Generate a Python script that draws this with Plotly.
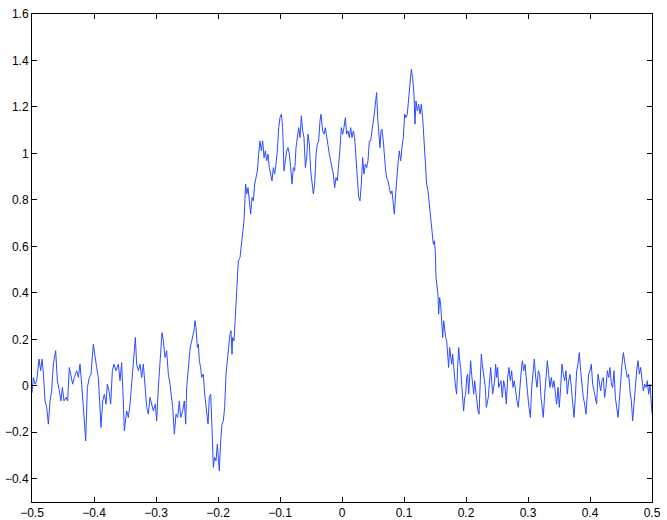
import plotly.graph_objects as go

# signal values
x_vals = [
    -0.5000, -0.4978, -0.4951, -0.4924, -0.4887, -0.4860, -0.4838, -0.4817, -0.4790, -0.4763,
    -0.4736, -0.4709, -0.4683, -0.4656, -0.4618, -0.4591, -0.4559, -0.4532, -0.4510, -0.4484,
    -0.4451, -0.4425, -0.4398, -0.4371, -0.4344, -0.4317, -0.4279, -0.4252, -0.4226, -0.4199,
    -0.4172, -0.4156, -0.4134, -0.4107, -0.4075, -0.4048, -0.4011, -0.3984, -0.3957, -0.3930,
    -0.3903, -0.3887, -0.3860, -0.3833, -0.3806, -0.3785, -0.3758, -0.3731, -0.3704, -0.3677,
    -0.3645, -0.3607, -0.3580, -0.3554, -0.3527, -0.3511, -0.3473, -0.3446, -0.3419, -0.3392,
    -0.3355, -0.3333, -0.3312, -0.3285, -0.3258, -0.3231, -0.3204, -0.3177, -0.3150, -0.3123,
    -0.3097, -0.3070, -0.3043, -0.3011, -0.2989, -0.2962, -0.2935, -0.2903, -0.2881, -0.2855,
    -0.2828, -0.2801, -0.2774, -0.2731, -0.2704, -0.2677, -0.2650, -0.2624, -0.2602, -0.2570,
    -0.2543, -0.2521, -0.2505, -0.2478, -0.2451,
    -0.2436, -0.2409, -0.2387, -0.2371, -0.2355, -0.2333, -0.2317, -0.2301, -0.2280, -0.2264,
    -0.2237, -0.2215, -0.2199, -0.2183, -0.2161, -0.2140, -0.2118, -0.2097, -0.2075, -0.2054,
    -0.2032, -0.2011, -0.1989, -0.1979, -0.1957, -0.1936, -0.1914, -0.1893, -0.1871, -0.1850,
    -0.1828, -0.1807, -0.1790, -0.1774, -0.1764, -0.1742, -0.1721, -0.1699, -0.1672, -0.1645,
    -0.1624, -0.1602, -0.1581,
    -0.1554, -0.1537, -0.1516, -0.1494, -0.1473, -0.1451, -0.1430, -0.1408, -0.1387, -0.1365,
    -0.1344, -0.1322, -0.1301, -0.1279, -0.1258, -0.1236, -0.1215, -0.1193, -0.1172, -0.1150,
    -0.1129, -0.1107, -0.1086, -0.1064, -0.1043, -0.1021, -0.1000, -0.0978, -0.0957, -0.0935,
    -0.0914, -0.0892, -0.0871, -0.0849, -0.0828, -0.0806, -0.0785, -0.0763, -0.0742, -0.0720,
    -0.0699, -0.0677, -0.0656, -0.0634, -0.0613, -0.0591, -0.0570, -0.0548, -0.0527, -0.0505,
    -0.0484, -0.0462, -0.0441, -0.0419, -0.0398, -0.0376, -0.0355, -0.0339, -0.0312, -0.0290,
    -0.0269, -0.0247, -0.0226, -0.0204, -0.0183, -0.0161, -0.0140, -0.0118, -0.0097, -0.0075,
    -0.0054, -0.0032, -0.0011, 0.0011, 0.0032, 0.0054, 0.0075, 0.0097, 0.0118, 0.0140,
    0.0161, 0.0183, 0.0204, 0.0226, 0.0247, 0.0269, 0.0290, 0.0312, 0.0333, 0.0355,
    0.0376, 0.0398, 0.0419, 0.0441,
    0.0462, 0.0484, 0.0505, 0.0527, 0.0543, 0.0559, 0.0575, 0.0591, 0.0613, 0.0629,
    0.0645, 0.0666, 0.0682, 0.0704, 0.0720, 0.0742, 0.0763, 0.0785, 0.0806, 0.0828,
    0.0844, 0.0865, 0.0881, 0.0903, 0.0924, 0.0946, 0.0967, 0.0989, 0.1010, 0.1032,
    0.1053, 0.1075, 0.1096, 0.1118, 0.1139, 0.1161, 0.1177, 0.1193, 0.1215, 0.1236,
    0.1258, 0.1279, 0.1301, 0.1322, 0.1344, 0.1365, 0.1387, 0.1408, 0.1430, 0.1451,
    0.1473, 0.1489, 0.1505, 0.1516, 0.1532, 0.1548, 0.1559, 0.1575, 0.1591, 0.1607,
    0.1624, 0.1640, 0.1656, 0.1672, 0.1688, 0.1704, 0.1720, 0.1736, 0.1753, 0.1769,
    0.1785, 0.1801, 0.1817, 0.1833, 0.1849, 0.1865, 0.1882, 0.1898, 0.1914, 0.1930,
    0.1946, 0.1962, 0.1978, 0.1995, 0.2011, 0.2027, 0.2043, 0.2059, 0.2075, 0.2091,
    0.2107, 0.2124, 0.2140, 0.2156, 0.2172, 0.2193, 0.2210, 0.2226, 0.2247, 0.2263,
    0.2280, 0.2296, 0.2312, 0.2328, 0.2344, 0.2360, 0.2376, 0.2398, 0.2414, 0.2430,
    0.2446, 0.2462, 0.2478, 0.2495, 0.2511, 0.2527,
    0.2564, 0.2586, 0.2607, 0.2629, 0.2650, 0.2672, 0.2693, 0.2715, 0.2736, 0.2758,
    0.2779, 0.2801, 0.2822, 0.2844, 0.2866, 0.2887, 0.2909, 0.2930, 0.2952, 0.2973,
    0.2995, 0.3016, 0.3038, 0.3059, 0.3081, 0.3102, 0.3124, 0.3145, 0.3167, 0.3188,
    0.3210, 0.3231, 0.3247, 0.3269, 0.3290, 0.3312, 0.3333, 0.3355, 0.3376, 0.3398,
    0.3419, 0.3441, 0.3462, 0.3484, 0.3505, 0.3527, 0.3548, 0.3570, 0.3591, 0.3613,
    0.3634, 0.3656, 0.3677, 0.3699, 0.3720, 0.3742, 0.3763, 0.3785, 0.3806, 0.3828,
    0.3849, 0.3871, 0.3892, 0.3914, 0.3935, 0.3957, 0.3978, 0.4000, 0.4021, 0.4043,
    0.4064, 0.4086, 0.4107, 0.4129, 0.4150, 0.4172, 0.4193, 0.4215, 0.4236, 0.4258,
    0.4279, 0.4301, 0.4322, 0.4344, 0.4365, 0.4387, 0.4409, 0.4430, 0.4452, 0.4473,
    0.4495, 0.4516, 0.4538, 0.4559, 0.4581, 0.4602, 0.4624, 0.4645, 0.4667, 0.4688,
    0.4710, 0.4731, 0.4753, 0.4774, 0.4796, 0.4817, 0.4839, 0.4860, 0.4882, 0.4903,
    0.4925, 0.4946, 0.4968, 0.4989, 0.5000,
]

y_vals = [
    -0.030, 0.036, 0.007, 0.022, 0.115, 0.065, 0.115, 0.057, -0.065, -0.093,
    -0.165, -0.065, -0.022, 0.093, 0.151, 0.022, -0.022, -0.065, -0.007, -0.065,
    -0.050, -0.065, 0.079, 0.036, 0.007, 0.036, 0.065, 0.036, 0.093, 0.007,
    -0.122, -0.151, -0.237, -0.007, 0.036, 0.050, 0.179, 0.122, 0.079, 0.036,
    -0.079, -0.179, -0.065, -0.036, -0.079, 0.007, -0.022, -0.079, 0.065, 0.093,
    0.065, 0.093, 0.022, 0.100, -0.065, -0.194, -0.108, -0.136, -0.079, 0.007,
    0.122, 0.208, 0.093, 0.065, 0.093, 0.036, 0.093, -0.022, -0.093, -0.122,
    -0.050, -0.079, -0.108, -0.079, -0.151, -0.007, 0.122, 0.229, 0.194, 0.122,
    0.151, 0.050, 0.007, -0.093, -0.208, -0.122, -0.136, -0.065, -0.136, -0.108,
    -0.065, -0.165, -0.007, 0.093, 0.158,
    0.179, 0.208, 0.237, 0.280, 0.251, 0.165, 0.179, 0.108, 0.079, 0.036,
    0.050, -0.036, -0.079, -0.122, -0.165, -0.050, -0.036, -0.179, -0.351, -0.308,
    -0.323, -0.251, -0.351, -0.366, -0.237, -0.165, -0.151, -0.093, 0.050, 0.122,
    0.165, 0.222, 0.237, 0.136, 0.208, 0.194, 0.308, 0.380, 0.538, 0.552,
    0.609, 0.652, 0.710,
    0.868, 0.825, 0.853, 0.796, 0.739, 0.810, 0.796, 0.868, 0.896, 0.925,
    0.997, 1.054, 1.011, 1.054, 0.982, 1.011, 0.968, 0.997, 0.939, 0.911,
    0.882, 0.939, 0.911, 0.954, 1.011, 1.111, 1.154, 1.169, 1.111, 0.925,
    0.982, 1.011, 1.025, 0.997, 0.939, 0.868, 0.939, 0.925, 1.025, 1.083,
    1.111, 1.068, 1.162, 1.097, 1.068, 0.939, 0.982, 1.083, 1.040, 0.925,
    0.868, 0.825, 0.868, 0.997, 1.040, 1.054, 1.140, 1.169, 1.097, 1.083,
    1.111, 1.068, 1.040, 0.997, 0.968, 0.939, 0.911, 0.853, 0.896, 0.882,
    0.939, 1.025, 1.111, 1.083, 1.111, 1.154, 1.083, 1.097, 1.068, 1.111,
    1.068, 1.097, 1.068, 0.982, 0.882, 0.810, 0.796, 0.868, 0.982, 0.911,
    0.954, 0.939, 0.968, 1.054,
    1.054, 1.097, 1.126, 1.183, 1.226, 1.262, 1.154, 1.083, 1.025, 1.097,
    1.104, 1.054, 0.982, 0.925, 0.896, 0.882, 0.853, 0.825, 0.839, 0.782,
    0.739, 0.825, 0.896, 0.954, 1.011, 0.968, 1.025, 1.068, 1.169, 1.154,
    1.169, 1.240, 1.312, 1.362, 1.326, 1.255, 1.126, 1.226, 1.183, 1.212,
    1.169, 1.212, 1.154, 1.040, 0.939, 0.868, 0.839, 0.782, 0.739, 0.667,
    0.609, 0.624, 0.581, 0.466, 0.423, 0.394, 0.308, 0.380, 0.351, 0.251,
    0.208, 0.280, 0.237, 0.208, 0.194, 0.136, 0.079, 0.165, 0.122, 0.093,
    0.136, 0.065, 0.036, -0.007, -0.036, 0.079, 0.165, 0.108, 0.079, 0.007,
    -0.050, -0.108, -0.050, -0.036, 0.036, 0.050, -0.036, 0.065, 0.108, 0.050,
    -0.007, -0.036, 0.022, -0.022, -0.065, -0.108, -0.122, -0.036, 0.136, 0.093,
    0.050, 0.022, -0.007, -0.093, -0.065, -0.050, 0.007, 0.079, 0.022, -0.036,
    -0.007, 0.022, 0.093, 0.036, 0.079, -0.007,
    0.022, -0.050, 0.022, -0.007, -0.079, 0.036, 0.079, 0.022, 0.065, -0.007,
    0.022, -0.036, -0.065, -0.093, -0.007, 0.050, 0.108, 0.065, 0.093, 0.007,
    -0.036, -0.093, -0.136, -0.007, 0.065, 0.115, 0.036, -0.007, 0.065, 0.050,
    -0.050, -0.093, -0.136, -0.036, 0.036, 0.108, 0.050, -0.007, 0.036, -0.007,
    0.022, -0.036, -0.079, -0.007, -0.093, -0.007, 0.093, 0.050, 0.022, 0.065,
    -0.036, 0.022, 0.050, -0.007, -0.079, -0.136, -0.050, 0.065, 0.093, 0.143,
    0.065, -0.007, -0.050, -0.079, -0.122, -0.036, 0.050, 0.065, 0.093, 0.007,
    -0.022, -0.065, -0.079, 0.050, 0.022, -0.022, 0.022, 0.036, -0.050, -0.007,
    0.065, 0.036, 0.079, 0.007, -0.007, 0.065, -0.050, -0.093, -0.136, -0.065,
    0.022, 0.093, 0.143, 0.093, 0.065, 0.036, 0.050, -0.022, -0.065, -0.151,
    -0.065, 0.007, 0.065, 0.108, 0.050, 0.079, 0.036, -0.022, 0.007, -0.007,
    0.022, -0.036, 0.007, -0.065, -0.120,
]

x_ticks = [-0.5, -0.4, -0.3, -0.2, -0.1, 0, 0.1, 0.2, 0.3, 0.4, 0.5]
y_ticks = [-0.4, -0.2, 0, 0.2, 0.4, 0.6, 0.8, 1, 1.2, 1.4, 1.6]

fig = go.Figure()
fig.add_trace(go.Scatter(
    x=x_vals,
    y=y_vals,
    mode="lines",
    line=dict(color="#2b4cff", width=1),
    showlegend=False,
))

axis_style = dict(
    showgrid=False,
    zeroline=False,
    showline=True,
    linecolor="black",
    linewidth=1,
    mirror="ticks",
    ticks="inside",
    ticklen=5,
    tickcolor="black",
    tickfont=dict(family="Liberation Sans, Arial", size=12, color="black"),
    ticklabeloverflow="allow",
    automargin=False,
)

fig.update_layout(
    width=667,
    height=520,
    margin=dict(l=32, r=15, t=14, b=18),
    paper_bgcolor="white",
    plot_bgcolor="white",
    xaxis=dict(range=[-0.5, 0.5], tickvals=x_ticks, **axis_style),
    yaxis=dict(range=[-0.5, 1.6], tickvals=y_ticks, **axis_style),
)

# drop the default body margin so the figure sits at the window's corner
fig.write_html(
    "out.html",
    config={"displayModeBar": False},
    post_script="document.body.style.margin='0px';document.body.style.overflow='hidden';",
)
